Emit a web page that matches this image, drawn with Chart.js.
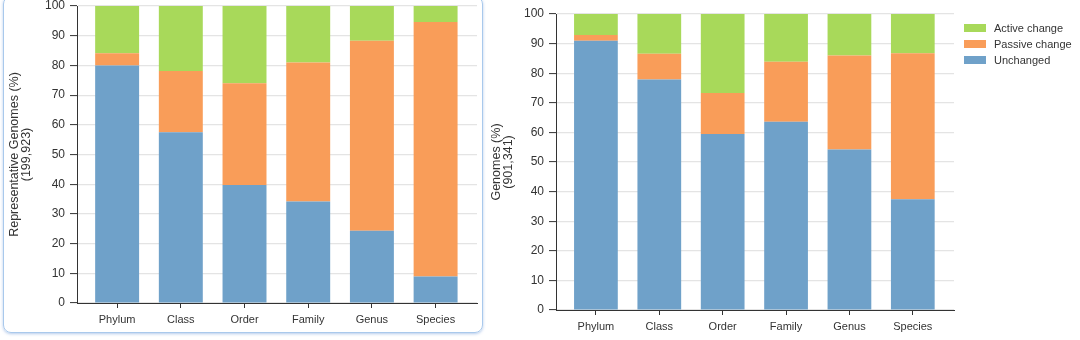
<!DOCTYPE html>
<html>
<head>
<meta charset="utf-8">
<script src="https://cdn.jsdelivr.net/npm/chart.js@4.4.1/dist/chart.umd.min.js"></script>
<style>
  body { margin: 0; background: #fff; width: 1080px; height: 340px; overflow: hidden; position: relative;
         font-family: "Liberation Sans", Arial, sans-serif; }
  .frame { position: absolute; left: 3px; top: -4px; width: 478px; height: 335px;
           border: 1.5px solid #a9c9ec; border-radius: 8px; box-shadow: 0 1px 3px rgba(90,140,210,0.45); }
  canvas { position: absolute; top: 0; }
  #left { left: 0; }
  #right { left: 490px; }
  .legend { position: absolute; left: 964px; top: 20px; font-size: 11px; color: #333; }
  .legend div { height: 16px; line-height: 16px; display: flex; align-items: center; }
  .legend span.box { display: inline-block; width: 22px; height: 8px; margin-right: 8px; }
</style>
</head>
<body>
<div class="frame"></div>
<canvas id="left" width="490" height="340"></canvas>
<canvas id="right" width="590" height="340"></canvas>
<div class="legend" id="legend"></div>
<script>
// categories and values (percent)
const categories = ['Phylum', 'Class', 'Order', 'Family', 'Genus', 'Species'];
const seriesNames = ['Unchanged', 'Passive change', 'Active change'];

// left panel: representative genomes (199,923)
const repUnchanged = [80.0, 57.5, 39.7, 34.2, 24.3, 8.9];
const repPassive   = [4.1, 20.6, 34.3, 46.8, 64.0, 85.7];
const repActive    = [15.9, 21.9, 26.0, 19.0, 11.7, 5.4];

// right panel: all genomes (901,341)
const allUnchanged = [91.0, 77.9, 59.5, 63.6, 54.2, 37.4];
const allPassive   = [1.9, 8.7, 13.8, 20.3, 31.8, 49.3];
const allActive    = [7.1, 13.4, 26.7, 16.1, 14.0, 13.3];

const COLORS = ['#6fa1c9', '#f99d59', '#a8d95a'];
const FONT = "'Liberation Sans', Arial, sans-serif";

function toPoints(arr) {
    return arr.map((v, i) => ({ x: i, y: v }));
}

function makeChart(id, series, opts) {
    const ctx = document.getElementById(id).getContext('2d');
    return new Chart(ctx, {
        type: 'bar',
        data: {
            datasets: series.map((s, i) => ({
                label: seriesNames[i],
                data: toPoints(s),
                backgroundColor: COLORS[i],
                borderWidth: 0,
                categoryPercentage: 1,
                barPercentage: 0.69,
            })),
        },
        options: {
            responsive: false,
            animation: false,
            devicePixelRatio: 1,
            layout: { padding: { left: 0, right: opts.padRight, top: opts.padTop, bottom: 0 } },
            plugins: { legend: { display: false }, tooltip: { enabled: false } },
            scales: {
                x: {
                    type: 'linear',
                    stacked: true,
                    offset: false,
                    min: -0.63,
                    max: 5.65,
                    afterBuildTicks: s => { s.ticks = categories.map((c, i) => ({ value: i })); },
                    afterFit: s => { s.height = opts.xHeight; s.paddingLeft = 0; s.paddingRight = 0; },
                    ticks: {
                        callback: v => categories[v],
                        color: '#333',
                        font: { family: FONT, size: 11 },
                        padding: 5,
                        maxRotation: 0,
                        autoSkip: false,
                    },
                    grid: { offset: false, drawOnChartArea: false, drawTicks: true, tickLength: 5, tickColor: '#333', tickWidth: 1 },
                    border: { color: '#333', width: 1 },
                },
                y: {
                    stacked: true,
                    min: 0,
                    max: 100,
                    afterFit: s => { s.width = opts.yWidth; s.paddingTop = 0; s.paddingBottom = 0; },
                    ticks: {
                        stepSize: 10,
                        color: '#333',
                        font: { family: FONT, size: 12, lineHeight: 1 },
                        padding: 5,
                    },
                    grid: { color: '#e4e4e4', lineWidth: 1.2, tickLength: 7, tickColor: '#333', tickWidth: 1 },
                    border: { color: '#333', width: 1 },
                    title: {
                        display: true,
                        text: opts.title,
                        color: '#333',
                        font: { family: FONT, size: 12.5, lineHeight: 0.96 },
                        padding: { top: opts.titlePad, bottom: 0 },
                    },
                },
            },
        },
    });
}

makeChart('left', [repUnchanged, repPassive, repActive], {
    padRight: 13, padTop: 6, xHeight: 37, yWidth: 77, titlePad: 9,
    title: ['Representative Genomes (%)', '(199,923)'],
});
makeChart('right', [allUnchanged, allPassive, allActive], {
    padRight: 126, padTop: 14, xHeight: 30, yWidth: 66, titlePad: 1,
    title: ['Genomes (%)', '(901,341)'],
});

// legend, top to bottom in stack order (top first)
const legend = document.getElementById('legend');
[2, 1, 0].forEach(i => {
    const row = document.createElement('div');
    row.innerHTML = `<span class="box" style="background:${COLORS[i]}"></span>${seriesNames[i]}`;
    legend.appendChild(row);
});
</script>
</body>
</html>
